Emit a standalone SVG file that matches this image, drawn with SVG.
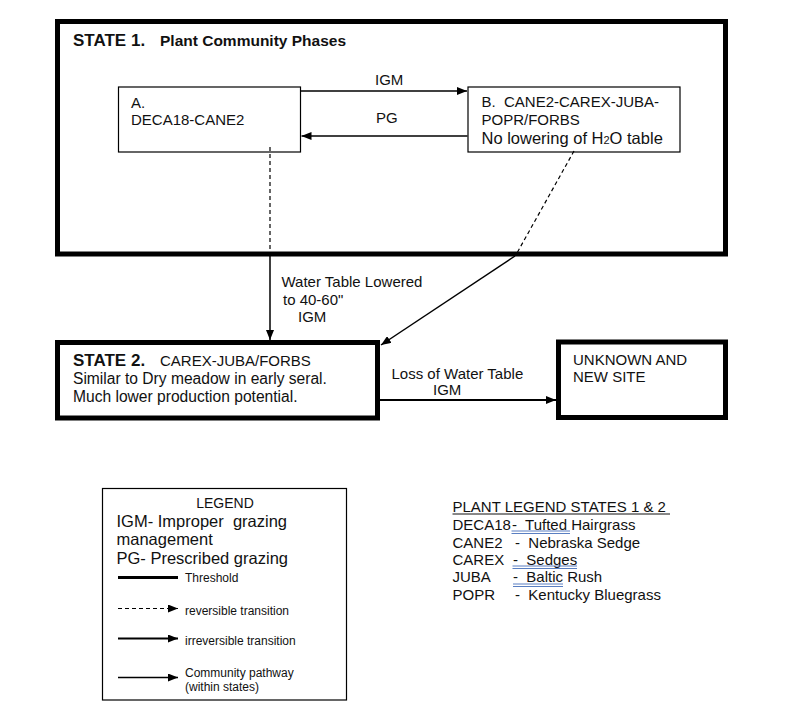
<svg xmlns="http://www.w3.org/2000/svg" width="800" height="727" viewBox="0 0 800 727">
<style>
text{font-family:"Liberation Sans",Arial,sans-serif;fill:#111;white-space:pre;}
.t15{font-size:15px;}
.b{font-weight:bold;}
.state{fill:none;stroke:#000;stroke-width:5;}
.phase{fill:#fff;stroke:#000;stroke-width:1.2;}
.path{fill:none;stroke:#000;stroke-width:1.5;}
.irr{fill:none;stroke:#000;stroke-width:2.2;}
.rev{fill:none;stroke:#000;stroke-width:1.2;stroke-dasharray:4,3;}
.blue{stroke:#5a7fc2;stroke-width:1;}
</style>
<defs>
<marker id="ah" markerWidth="10" markerHeight="8" refX="10" refY="4" orient="auto" markerUnits="userSpaceOnUse">
<path d="M0,0 L10,4 L0,8 Z" fill="#000"/>
</marker>
</defs>
<rect width="800" height="727" fill="#fff"/>

<g id="state1">
<rect class="state" x="57.5" y="21.5" width="668" height="232.5"/>
<text x="73" y="46" class="b" font-size="17">STATE 1.</text>
<text x="160" y="46" class="b" font-size="15.5">Plant Community Phases</text>
</g>

<g id="phaseA">
<rect class="phase" x="118.5" y="87" width="182" height="65"/>
<text class="t15" x="131" y="108">A.</text>
<text class="t15" x="131" y="125">DECA18-CANE2</text>
</g>

<g id="phaseB">
<rect class="phase" x="468" y="87" width="212" height="65"/>
<text class="t15" x="481.5" y="106.5">B.  CANE2-CAREX-JUBA-</text>
<text class="t15" x="481.5" y="125">POPR/FORBS</text>
<text x="481.5" y="143.5" font-size="16.5">No lowering of H<tspan font-size="11">2</tspan>O table</text>
</g>

<g id="state2">
<rect class="state" x="57.5" y="342.5" width="320" height="75.5"/>
<text x="73" y="366" class="b" font-size="17">STATE 2.</text>
<text x="160" y="366" font-size="15">CAREX-JUBA/FORBS</text>
<text x="73" y="383.5" font-size="15.6">Similar to Dry meadow in early seral.</text>
<text x="73" y="401.5" font-size="15.6">Much lower production potential.</text>
</g>

<g id="unknown">
<rect class="state" x="558.5" y="342" width="167" height="75.5"/>
<text class="t15" x="573" y="365">UNKNOWN AND</text>
<text class="t15" x="573" y="382">NEW SITE</text>
</g>

<g id="connectors">
<line class="path" x1="300.5" y1="91" x2="467" y2="91" marker-end="url(#ah)"/>
<text class="t15" x="375" y="85">IGM</text>
<line class="path" x1="467.5" y1="136" x2="301.5" y2="136" marker-end="url(#ah)"/>
<text class="t15" x="376" y="123">PG</text>

<line class="rev" x1="270" y1="147" x2="270" y2="252"/>
<line class="path" x1="270" y1="254" x2="270" y2="340" marker-end="url(#ah)"/>
<text class="t15" x="281.5" y="287">Water Table Lowered</text>
<text class="t15" x="283" y="305">to 40-60"</text>
<text class="t15" x="298" y="322">IGM</text>

<line class="rev" x1="574" y1="151" x2="517" y2="253"/>
<line class="path" x1="515" y1="256" x2="381" y2="345" marker-end="url(#ah)"/>

<line class="irr" x1="380" y1="400" x2="556" y2="400" marker-end="url(#ah)"/>
<text class="t15" x="391.5" y="378.5">Loss of Water Table</text>
<text class="t15" x="433" y="395">IGM</text>
</g>

<g id="legend">
<rect x="102.5" y="488.5" width="244" height="211.5" fill="#fff" stroke="#000" stroke-width="1.2"/>
<text x="225" y="508" font-size="14" text-anchor="middle">LEGEND</text>
<text x="116.5" y="527" font-size="16.5">IGM- Improper  grazing</text>
<text x="116.5" y="545" font-size="16.5">management</text>
<text x="116.5" y="563.5" font-size="16.5">PG- Prescribed grazing</text>
<line x1="118" y1="577.5" x2="178" y2="577.5" stroke="#000" stroke-width="3"/>
<text x="185" y="582" font-size="12">Threshold</text>
<line class="rev" x1="118" y1="608.5" x2="178" y2="608.5" marker-end="url(#ah)"/>
<text x="185" y="615" font-size="12">reversible transition</text>
<line class="irr" x1="118" y1="638.5" x2="178" y2="638.5" marker-end="url(#ah)"/>
<text x="185" y="645" font-size="12">irreversible transition</text>
<line class="path" x1="118" y1="677.5" x2="178" y2="677.5" marker-end="url(#ah)"/>
<text x="185" y="676.5" font-size="12">Community pathway</text>
<text x="185" y="690.5" font-size="12">(within states)</text>
</g>

<g id="plant-legend">
<text class="t15" x="452.5" y="511.5">PLANT LEGEND STATES 1 &amp; 2</text>
<line x1="452.5" y1="514" x2="670" y2="514" stroke="#111" stroke-width="1"/>
<text class="t15" x="452.5" y="529.5">DECA18</text>
<text class="t15" x="512" y="529.5">-  Tufted Hairgrass</text>
<text class="t15" x="452.5" y="547.5">CANE2</text>
<text class="t15" x="515" y="547.5">-  Nebraska Sedge</text>
<text class="t15" x="452.5" y="564.5">CAREX</text>
<text class="t15" x="513" y="564.5">-  Sedges</text>
<text class="t15" x="452.5" y="582">JUBA</text>
<text class="t15" x="513" y="582">-  Baltic Rush</text>
<text class="t15" x="452.5" y="599.5">POPR</text>
<text class="t15" x="515" y="599.5">-  Kentucky Bluegrass</text>
<line class="blue" x1="511.5" y1="531" x2="570" y2="531"/>
<line class="blue" x1="511.5" y1="533.5" x2="570" y2="533.5"/>
<line class="blue" x1="512.5" y1="566" x2="577" y2="566"/>
<line class="blue" x1="512.5" y1="568.5" x2="577" y2="568.5"/>
<line class="blue" x1="513" y1="584" x2="563" y2="584"/>
<line class="blue" x1="513" y1="586.5" x2="563" y2="586.5"/>
</g>
</svg>
